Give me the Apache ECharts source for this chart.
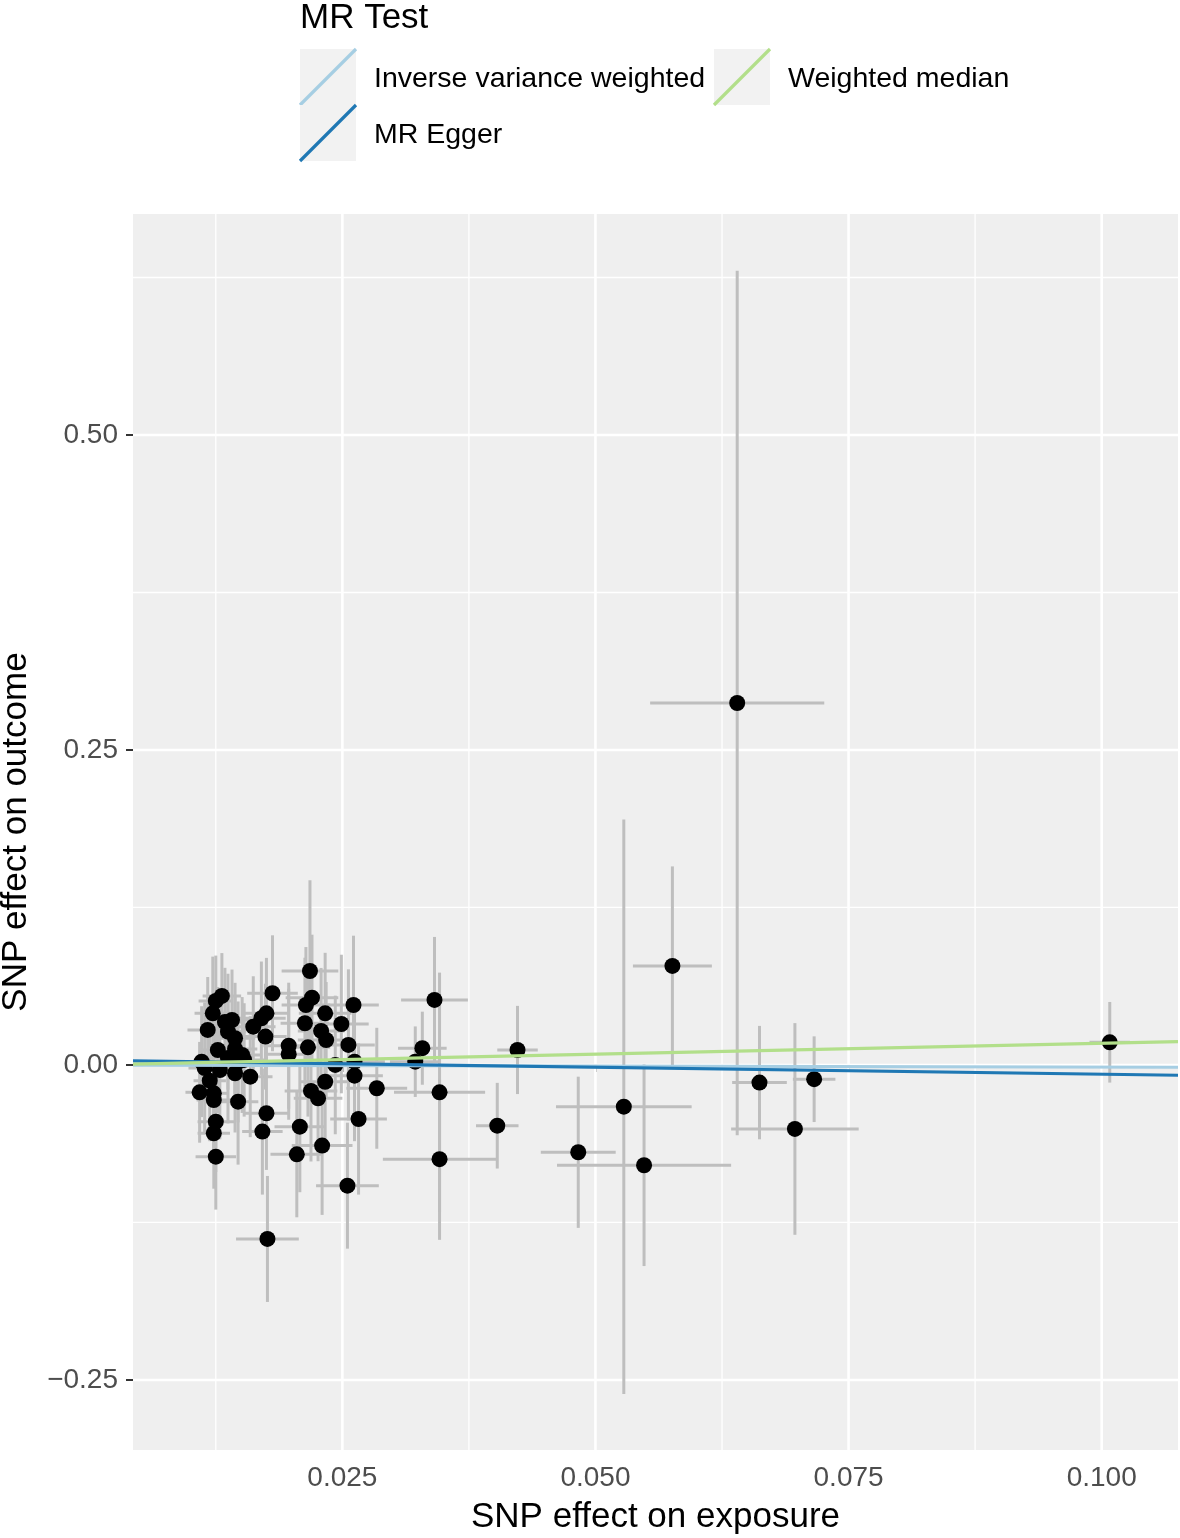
<!DOCTYPE html>
<html>
<head>
<meta charset="utf-8">
<script src="https://cdn.jsdelivr.net/npm/echarts@6/dist/echarts.min.js"></script>
<style>
  html, body { margin: 0; padding: 0; background: #ffffff; }
  #chart { width: 1180px; height: 1538px; }
</style>
</head>
<body>
<div id="chart"></div>
<script>
// ---- Data ----
const exposureBeta = [
  0.0111, 0.0109, 0.0117, 0.0119, 0.0122, 0.0123, 0.0123, 0.0147, 0.0125, 0.0123,
  0.0125, 0.0159, 0.0175, 0.0171, 0.0114, 0.0129, 0.0144, 0.0131, 0.0125, 0.0141,
  0.0137, 0.0144, 0.0127, 0.0144, 0.0151, 0.0137, 0.0162, 0.0170, 0.0174, 0.0181,
  0.0175, 0.0147, 0.0134, 0.0153, 0.0218, 0.0220, 0.0214, 0.0261, 0.0233, 0.0213,
  0.0249, 0.0229, 0.0234, 0.0197, 0.0216, 0.0256, 0.0197, 0.0243, 0.0262, 0.0233,
  0.0262, 0.0284, 0.0219, 0.0226, 0.0266, 0.0208, 0.0230, 0.0205, 0.0255, 0.0176,
  0.0341, 0.0329, 0.0322, 0.0423, 0.0346, 0.0346, 0.0403, 0.0483, 0.0528, 0.0548,
  0.0576, 0.0640, 0.0662, 0.0697, 0.0716, 0.1008
];
const outcomeBeta = [
  0.0026, -0.0217, 0.0278, -0.0125, 0.0410, -0.0225, -0.0278, -0.0291, -0.0450, -0.0542,
  -0.0728, -0.0093, -0.0383, -0.0529, -0.0024, -0.0040, -0.0066, 0.0548, 0.0508, 0.0357,
  0.0264, 0.0212, 0.0119, 0.0127, 0.0079, 0.0056, 0.0304, 0.0371, 0.0225, 0.0569,
  0.0410, 0.0024, 0.0341, 0.0040, 0.0746, 0.0534, 0.0476, 0.0476, 0.0410, 0.0331,
  0.0325, 0.0270, 0.0198, 0.0153, 0.0140, 0.0159, 0.0085, 0.0000, 0.0026, -0.0133,
  -0.0085, -0.0185, -0.0206, -0.0264, -0.0429, -0.0490, -0.0640, -0.0709, -0.0958, -0.1381,
  0.0516, 0.0133, 0.0026, 0.0119, -0.0217, -0.0748, -0.0482, -0.0693, -0.0331, -0.0796,
  0.0786, 0.2873, -0.0140, -0.0508, -0.0113, 0.0180
];
const exposureSe = [
  0.0016, 0.0014, 0.0020, 0.0016, 0.0018, 0.0015, 0.0017, 0.0020, 0.0018, 0.0016,
  0.0020, 0.0022, 0.0023, 0.0020, 0.0016, 0.0017, 0.0019, 0.0019, 0.0017, 0.0021,
  0.0018, 0.0020, 0.0016, 0.0022, 0.0019, 0.0018, 0.0022, 0.0024, 0.0021, 0.0025,
  0.0022, 0.0020, 0.0018, 0.0021, 0.0028, 0.0026, 0.0024, 0.0025, 0.0026, 0.0024,
  0.0027, 0.0023, 0.0028, 0.0025, 0.0022, 0.0026, 0.0024, 0.0026, 0.0030, 0.0025,
  0.0028, 0.0030, 0.0026, 0.0024, 0.0028, 0.0025, 0.0030, 0.0026, 0.0031, 0.0031,
  0.0033, 0.0024, 0.0025, 0.0020, 0.0045, 0.0056, 0.0021, 0.0037, 0.0067, 0.0086,
  0.0039, 0.0086, 0.0027, 0.0063, 0.0021, 0.0020
];
const outcomeSe = [
  0.044, 0.040, 0.042, 0.048, 0.045, 0.050, 0.046, 0.050, 0.040, 0.044,
  0.042, 0.048, 0.045, 0.050, 0.052, 0.055, 0.047, 0.034, 0.036, 0.040,
  0.046, 0.044, 0.050, 0.042, 0.046, 0.052, 0.040, 0.045, 0.042, 0.046,
  0.044, 0.048, 0.043, 0.045, 0.072, 0.050, 0.046, 0.055, 0.048, 0.052,
  0.055, 0.050, 0.046, 0.050, 0.055, 0.060, 0.052, 0.055, 0.050, 0.054,
  0.052, 0.048, 0.056, 0.050, 0.060, 0.052, 0.055, 0.050, 0.050, 0.050,
  0.050, 0.029, 0.028, 0.035, 0.095, 0.064, 0.034, 0.060, 0.228, 0.080,
  0.079, 0.343, 0.045, 0.084, 0.034, 0.032
];

const methods = ['Inverse variance weighted', 'MR Egger', 'Weighted median'];
const methodIntercepts = [0, 0.00364, 0];
const methodSlopes = [-0.0170, -0.1099, 0.172];

const xTicks = [0.025, 0.050, 0.075, 0.100];
const xMinorGrid = [0.0125, 0.0375, 0.0625, 0.0875];
const yTicks = [-0.25, 0.00, 0.25, 0.50];
const yMinorGrid = [-0.125, 0.125, 0.375, 0.625];

// ---- Style ----
const X_MIN = 0.00432, X_MAX = 0.10754;
const Y_MIN = -0.3056, Y_MAX = 0.6754;
const methodColors = ['#a6cee3', '#1f78b4', '#b2df8a'];
const FONT = '"Liberation Sans", Arial, Helvetica, sans-serif';

const chart = echarts.init(document.getElementById('chart'), null, { renderer: 'canvas' });

// grid lines data: [value, kind] kind 0 = vertical major, 1 = vertical minor, 2 = horizontal major, 3 = horizontal minor
const gridData = []
  .concat(xTicks.map(v => [v, 0]))
  .concat(xMinorGrid.map(v => [v, 1]))
  .concat(yTicks.map(v => [v, 2]))
  .concat(yMinorGrid.map(v => [v, 3]));

const errData = exposureBeta.map((x, i) => [x, outcomeBeta[i], exposureSe[i], outcomeSe[i]]);
const pointData = exposureBeta.map((x, i) => [x, outcomeBeta[i]]);

const lineSeries = methods.map((m, i) => ({
  name: m,
  type: 'line',
  data: [
    [X_MIN, methodIntercepts[i] + methodSlopes[i] * X_MIN],
    [X_MAX, methodIntercepts[i] + methodSlopes[i] * X_MAX]
  ],
  symbol: 'none',
  lineStyle: { color: methodColors[i], width: 3.2 },
  z: 10 + i,
  silent: true,
  animation: false,
  clip: true
}));

// legend graphic
const legendKeys = [
  { col: 0, row: 0 }, { col: 0, row: 1 }, { col: 1, row: 0 }
];
const keyX = [300, 714];
const keyY = [49, 105];
const legendGraphics = [
  { type: 'text', left: 300, top: 1,
    style: { text: 'MR Test', font: '35px ' + FONT, fill: '#000' } }
];
methods.forEach((m, i) => {
  const k = legendKeys[i];
  const x0 = keyX[k.col], y0 = keyY[k.row];
  legendGraphics.push({ type: 'rect', shape: { x: x0, y: y0, width: 56, height: 56 },
    style: { fill: '#f2f2f2' } });
  legendGraphics.push({ type: 'line', shape: { x1: x0, y1: y0 + 56, x2: x0 + 56, y2: y0 },
    style: { stroke: methodColors[i], lineWidth: 3.2 } });
  legendGraphics.push({ type: 'text', x: x0 + 74, y: y0 + 30,
    style: { text: m, font: '28.5px ' + FONT, fill: '#000', textVerticalAlign: 'middle', verticalAlign: 'middle' } });
});

const option = {
  animation: false,
  backgroundColor: '#ffffff',
  textStyle: { fontFamily: FONT },
  grid: { left: 133, right: 2, top: 214, bottom: 88, show: true, backgroundColor: '#efefef', borderWidth: 0,
    containLabel: false, outerBoundsMode: 'none' },
  xAxis: {
    type: 'value', min: X_MIN, max: X_MAX,
    name: 'SNP effect on exposure', nameLocation: 'middle', nameGap: 50,
    nameTextStyle: { fontSize: 35, color: '#000', fontFamily: FONT },
    axisLine: { show: false },
    axisTick: { show: true, customValues: xTicks, length: 7, lineStyle: { color: '#333', width: 2 } },
    axisLabel: { customValues: xTicks, fontSize: 28, color: '#4d4d4d', margin: 14, fontFamily: FONT,
      formatter: v => v.toFixed(3) },
    splitLine: { show: false }
  },
  yAxis: {
    type: 'value', min: Y_MIN, max: Y_MAX,
    name: 'SNP effect on outcome', nameLocation: 'middle', nameGap: 99, nameRotate: 90,
    nameTextStyle: { fontSize: 35, color: '#000', fontFamily: FONT },
    axisLine: { show: false },
    axisTick: { show: true, customValues: yTicks, length: 7, lineStyle: { color: '#333', width: 2 } },
    axisLabel: { customValues: yTicks, fontSize: 28, color: '#4d4d4d', margin: 15, fontFamily: FONT,
      formatter: v => (v < 0 ? '\u2212' + Math.abs(v).toFixed(2) : v.toFixed(2)) },
    splitLine: { show: false }
  },
  graphic: legendGraphics,
  series: [
    {
      type: 'custom', name: 'grid', data: gridData, silent: true, z: 1, clip: false,
      renderItem: function (params, api) {
        const cs = params.coordSys;
        const v = api.value(0), kind = api.value(1);
        const w = (kind === 0 || kind === 2) ? 2.6 : 1.3;
        if (kind < 2) {
          const px = api.coord([v, 0])[0];
          if (px < cs.x || px > cs.x + cs.width) return null;
          return { type: 'line', shape: { x1: px, y1: cs.y, x2: px, y2: cs.y + cs.height },
            style: { stroke: '#ffffff', lineWidth: w } };
        } else {
          const py = api.coord([X_MIN, v])[1];
          if (py < cs.y || py > cs.y + cs.height) return null;
          return { type: 'line', shape: { x1: cs.x, y1: py, x2: cs.x + cs.width, y2: py },
            style: { stroke: '#ffffff', lineWidth: w } };
        }
      }
    },
    {
      type: 'custom', name: 'errorbars', data: errData, silent: true, z: 3, clip: true,
      renderItem: function (params, api) {
        const x = api.value(0), y = api.value(1), sx = api.value(2), sy = api.value(3);
        const v1 = api.coord([x, y - sy]), v2 = api.coord([x, y + sy]);
        const h1 = api.coord([x - sx, y]), h2 = api.coord([x + sx, y]);
        const st = { stroke: '#bebebe', lineWidth: 3 };
        return { type: 'group', children: [
          { type: 'line', shape: { x1: v1[0], y1: v1[1], x2: v2[0], y2: v2[1] }, style: st },
          { type: 'line', shape: { x1: h1[0], y1: h1[1], x2: h2[0], y2: h2[1] }, style: st }
        ] };
      }
    },
    {
      type: 'scatter', name: 'SNPs', data: pointData, symbol: 'circle', symbolSize: 16,
      itemStyle: { color: '#000000', opacity: 1 }, z: 5, silent: true
    }
  ].concat(lineSeries)
};

chart.setOption(option);
</script>
</body>
</html>
